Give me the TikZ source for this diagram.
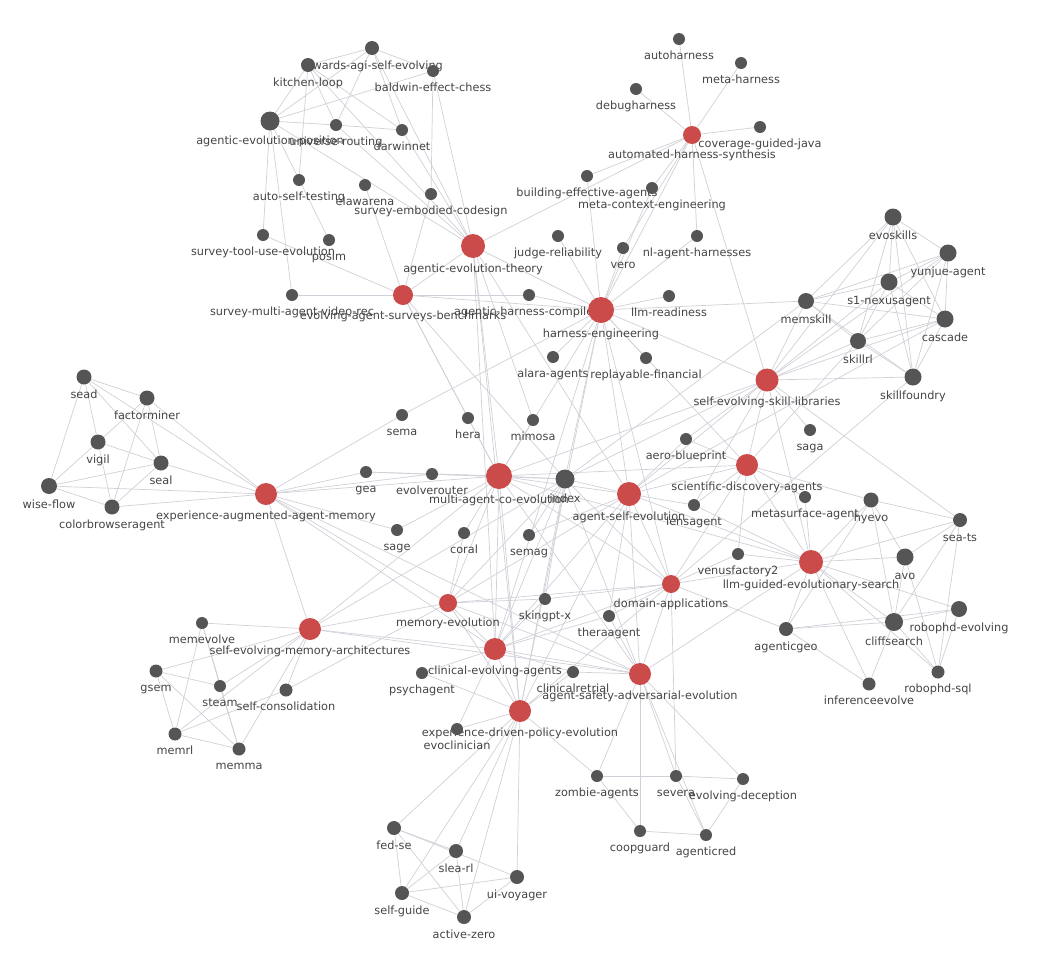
\documentclass[tikz,border=0pt]{standalone}
\usepackage{fontspec}
\setmainfont{DejaVu Sans}
\usetikzlibrary{backgrounds}

\definecolor{nodegray}{HTML}{555555}
\definecolor{topicred}{HTML}{CB4B4B}
\definecolor{labelgray}{HTML}{444444}
\definecolor{linkgray}{HTML}{D0D0D8}

\begin{document}
\begin{tikzpicture}[x=1pt, y=-1pt, label distance=5.5pt,
  every label/.style={text=labelgray, font=\fontsize{11.3}{13}\selectfont, inner sep=0pt, text height=8.5pt, text depth=2.5pt},
  paper/.style={circle, fill=nodegray, inner sep=0pt, minimum size=#1},
  paper/.default=12pt,
  topic/.style={circle, fill=topicred, inner sep=0pt, minimum size=#1},
  topic/.default=22pt,
  every edge/.style={draw=linkgray, line width=0.7pt}]
  \useasboundingbox (0,0) rectangle (1041,956);

  % survey and position papers, top left
  \node[paper=14pt, label=below:towards-agi-self-evolving] (tagi) at (372,48) {};
  \node[paper=14pt, label=below:kitchen-loop] (kloop) at (308,65) {};
  \node[paper, label=below:baldwin-effect-chess] (baldwin) at (433,71) {};
  \node[paper=19pt, label=below:agentic-evolution-position] (aepos) at (270,121) {};
  \node[paper, label=below:universe-routing] (urout) at (336,125) {};
  \node[paper, label=below:darwinnet] (darwin) at (402,130) {};
  \node[paper, label=below:auto-self-testing] (ast) at (299,180) {};
  \node[paper, label=below:elawarena] (elaw) at (365,185) {};
  \node[paper, label=below:survey-embodied-codesign] (sec) at (431,194) {};
  \node[paper, label=below:survey-tool-use-evolution] (stue) at (263,235) {};
  \node[paper, label=below:posim] (posim) at (329,240) {};
  \node[paper, label=below:survey-multi-agent-video-rec] (smavr) at (292,295) {};
  \node[topic=20pt, label=below:evolving-agent-surveys-benchmarks] (easb) at (403,295) {};
  \node[topic=24pt, label=below:agentic-evolution-theory] (aet) at (473,246) {};

  % harness papers
  \node[paper, label=below:autoharness] (autoh) at (679,39) {};
  \node[paper, label=below:meta-harness] (metah) at (741,63) {};
  \node[paper, label=below:debugharness] (debugh) at (636,89) {};
  \node[paper, label=below:coverage-guided-java] (cgj) at (760,127) {};
  \node[topic=18pt, label=below:automated-harness-synthesis] (ahs) at (692,135) {};
  \node[paper, label=below:building-effective-agents] (bea) at (587,176) {};
  \node[paper, label=below:meta-context-engineering] (mce) at (652,188) {};
  \node[paper, label=below:judge-reliability] (judge) at (558,236) {};
  \node[paper, label=below:vero] (vero) at (623,248) {};
  \node[paper, label=below:nl-agent-harnesses] (nlah) at (697,236) {};
  \node[paper, label=below:agentic-harness-compilers] (ahc) at (529,295) {};
  \node[topic=26pt, label=below:harness-engineering] (he) at (601,310) {};
  \node[paper, label=below:llm-readiness] (llmr) at (669,296) {};
  \node[paper, label=below:alara-agents] (alara) at (553,357) {};
  \node[paper, label=below:replayable-financial] (replay) at (646,358) {};

  % skill papers
  \node[paper=17pt, label=below:evoskills] (evosk) at (893,217) {};
  \node[paper=17pt, label=below:yunjue-agent] (yunjue) at (948,253) {};
  \node[paper=17pt, label=below:s1-nexusagent] (s1) at (889,282) {};
  \node[paper=16pt, label=below:memskill] (memsk) at (806,301) {};
  \node[paper=17pt, label=below:cascade] (cascade) at (945,319) {};
  \node[paper=16pt, label=below:skillrl] (skillrl) at (858,341) {};
  \node[paper=17pt, label=below:skillfoundry] (skillf) at (913,377) {};
  \node[topic=23pt, label=below:self-evolving-skill-libraries] (sesl) at (767,380) {};
  \node[paper, label=below:saga] (saga) at (810,430) {};

  % experience memory papers, left
  \node[paper=15pt, label=below:sead] (sead) at (84,377) {};
  \node[paper=15pt, label=below:factorminer] (factor) at (147,398) {};
  \node[paper=15pt, label=below:vigil] (vigil) at (98,442) {};
  \node[paper=15pt, label=below:seal] (seal) at (161,463) {};
  \node[paper=16pt, label=below:wise-flow] (wise) at (49,486) {};
  \node[paper=15pt, label=below:colorbrowseragent] (colorb) at (112,507) {};
  \node[topic, label=below:experience-augmented-agent-memory] (eaam) at (266,494) {};
  \node[paper, label=below:sema] (sema) at (402,415) {};
  \node[paper, label=below:gea] (gea) at (366,472) {};
  \node[paper, label=below:sage] (sage) at (397,530) {};

  % centre
  \node[paper, label=below:hera] (hera) at (468,418) {};
  \node[paper, label=below:mimosa] (mimosa) at (533,420) {};
  \node[paper, label=below:evolverouter] (evolr) at (432,474) {};
  \node[topic=26pt, label=below:multi-agent-co-evolution] (mace) at (499,476) {};
  \node[paper=19pt, label=below:index] (index) at (565,479) {};
  \node[topic=24pt, label=below:agent-self-evolution] (ase) at (629,494) {};
  \node[paper, label=below:aero-blueprint] (aero) at (686,439) {};
  \node[paper, label=below:lensagent] (lens) at (694,505) {};
  \node[paper, label=below:coral] (coral) at (464,533) {};
  \node[paper, label=below:semag] (semag) at (529,535) {};
  \node[topic, label=below:scientific-discovery-agents] (sda) at (747,465) {};
  \node[paper, label=below:metasurface-agent] (metas) at (805,497) {};
  \node[paper, label=below:venusfactory2] (venus) at (738,554) {};
  \node[topic=18pt, label=below:domain-applications] (da) at (671,584) {};
  \node[topic=18pt, label=below:memory-evolution] (memev) at (448,603) {};
  \node[paper, label=below:skingpt-x] (skingpt) at (545,599) {};
  \node[paper, label=below:theraagent] (thera) at (609,616) {};

  % evolutionary search, right
  \node[paper=15pt, label=below:hyevo] (hyevo) at (871,500) {};
  \node[paper=14pt, label=below:sea-ts] (seats) at (960,520) {};
  \node[topic=24pt, label=below:llm-guided-evolutionary-search] (lges) at (811,562) {};
  \node[paper=17pt, label=below:avo] (avo) at (905,557) {};
  \node[paper=16pt, label=below:robophd-evolving] (robe) at (959,609) {};
  \node[paper=18pt, label=below:cliffsearch] (cliff) at (894,622) {};
  \node[paper=14pt, label=below:agenticgeo] (ageo) at (786,629) {};
  \node[paper=13pt, label=below:inferenceevolve] (infer) at (869,684) {};
  \node[paper=13pt, label=below:robophd-sql] (rsql) at (938,672) {};

  % memory architectures, bottom left
  \node[paper, label=below:memevolve] (memevolve) at (202,623) {};
  \node[topic, label=below:self-evolving-memory-architectures] (semarch) at (310,629) {};
  \node[paper=13pt, label=below:gsem] (gsem) at (156,671) {};
  \node[paper, label=below:steam] (steam) at (220,686) {};
  \node[paper=13pt, label=below:self-consolidation] (scons) at (286,690) {};
  \node[paper=13pt, label=below:memrl] (memrl) at (175,734) {};
  \node[paper=13pt, label=below:memma] (memma) at (239,749) {};
  \node[paper, label=below:psychagent] (psych) at (422,673) {};
  \node[topic, label=below:clinical-evolving-agents] (cea) at (495,649) {};
  \node[paper, label=below:clinicalretrial] (clinr) at (573,672) {};
  \node[topic, label=below:agent-safety-adversarial-evolution] (asae) at (640,674) {};
  \node[topic, label=below:experience-driven-policy-evolution] (edpe) at (520,711) {};
  \node[paper, label=below:evoclinician] (evoclin) at (457,729) {};

  % policy and safety papers, bottom
  \node[paper=14pt, label=below:fed-se] (fedse) at (394,828) {};
  \node[paper=14pt, label=below:slea-rl] (slearl) at (456,851) {};
  \node[paper=14pt, label=below:ui-voyager] (uivoy) at (517,877) {};
  \node[paper=14pt, label=below:self-guide] (selfg) at (402,893) {};
  \node[paper=14pt, label=below:active-zero] (azero) at (464,917) {};
  \node[paper, label=below:zombie-agents] (zombie) at (597,776) {};
  \node[paper, label=below:severa] (severa) at (676,776) {};
  \node[paper, label=below:evolving-deception] (evdec) at (743,779) {};
  \node[paper, label=below:coopguard] (coopg) at (640,831) {};
  \node[paper, label=below:agenticred] (agred) at (706,835) {};

  \begin{scope}[on background layer]
    \path (tagi) edge (kloop) edge (baldwin) edge (aepos) edge (urout) edge (darwin) edge (aet);
    \path (kloop) edge (aepos) edge (ast) edge (urout) edge (darwin) edge (aet);
    \path (baldwin) edge (aepos) edge (sec) edge (aet);
    \path (aepos) edge (urout) edge (stue) edge (smavr) edge (posim) edge (aet);
    \path (urout) edge (darwin) edge (aet);
    \path (darwin) edge (aet);
    \path (easb) edge (elaw) edge (sec) edge (stue) edge (smavr) edge (aet) edge (he) edge (ahc) edge (index) edge (mace) edge (hera);
    \path (aet) edge (ahs) edge (he) edge (mace) edge (mimosa) edge (ase) edge (cea) edge (edpe);
    \path (ahs) edge (autoh) edge (metah) edge (debugh) edge (cgj) edge (bea) edge (mce) edge (vero) edge (nlah) edge (he) edge (sesl);
    \path (he) edge (judge) edge (vero) edge (nlah) edge (llmr) edge (ahc) edge (alara) edge (replay) edge (bea) edge (mce)
      edge (mace) edge (index) edge (ase) edge (sda) edge (sesl) edge (da) edge (cea) edge (edpe) edge (memsk) edge (sema);
    \path (sesl) edge (memsk) edge (evosk) edge (yunjue) edge (s1) edge (cascade) edge (skillrl) edge (skillf) edge (saga)
      edge (sda) edge (ase) edge (index) edge (mace) edge (aero) edge (lens) edge (seats) edge (lges);
    \path (evosk) edge (yunjue) edge (s1) edge (memsk) edge (skillrl) edge (skillf) edge (cascade);
    \path (yunjue) edge (s1) edge (memsk) edge (cascade) edge (skillrl) edge (skillf);
    \path (s1) edge (memsk) edge (cascade) edge (skillrl) edge (skillf);
    \path (memsk) edge (cascade) edge (skillrl) edge (skillf) edge (index);
    \path (cascade) edge (skillrl) edge (skillf) edge (ase);
    \path (skillrl) edge (skillf) edge (sda);
    \path (skillf) edge (da);
    \path (sead) edge (factor) edge (vigil) edge (seal) edge (wise) edge (eaam);
    \path (factor) edge (vigil) edge (seal) edge (colorb) edge (eaam);
    \path (vigil) edge (seal) edge (wise) edge (colorb);
    \path (seal) edge (wise) edge (colorb) edge (eaam);
    \path (wise) edge (colorb) edge (eaam);
    \path (colorb) edge (eaam);
    \path (eaam) edge (sema) edge (gea) edge (evolr) edge (sage) edge (mace) edge (semarch) edge (memev) edge (cea) edge (asae);
    \path (gea) edge (mace) edge (index);
    \path (mace) edge (evolr) edge (sage) edge (hera) edge (mimosa) edge (coral)
      edge (index) edge (ase) edge (sda) edge (lges) edge (memev) edge (cea) edge (edpe) edge (asae) edge (da);
    \path (coral) edge (memev);
    \path (index) edge (semag) edge (ase) edge (skingpt) edge (edpe) edge (cea) edge (da) edge (asae) edge (memev);
    \path (ase) edge (semag) edge (aero) edge (lens) edge (sda) edge (lges) edge (da) edge (thera) edge (memev) edge (cea) edge (asae) edge (edpe);
    \path (sda) edge (aero) edge (lens) edge (venus) edge (metas) edge (lges) edge (da) edge (hyevo);
    \path (lges) edge (lens) edge (venus) edge (metas) edge (da) edge (asae)
      edge (hyevo) edge (seats) edge (avo) edge (cliff) edge (robe) edge (rsql) edge (infer) edge (ageo);
    \path (da) edge (venus) edge (skingpt) edge (thera) edge (memev) edge (cea) edge (edpe) edge (asae) edge (ageo) edge (severa);
    \path (memev) edge (semarch) edge (scons) edge (cea) edge (edpe) edge (asae) edge (skingpt);
    \path (cea) edge (skingpt) edge (thera) edge (clinr) edge (semarch) edge (psych) edge (edpe) edge (evoclin) edge (asae);
    \path (asae) edge (thera) edge (clinr) edge (semarch) edge (zombie) edge (severa) edge (evdec) edge (coopg) edge (agred);
    \path (edpe) edge (clinr) edge (psych) edge (evoclin) edge (fedse) edge (slearl) edge (uivoy) edge (selfg) edge (azero) edge (zombie);
    \path (hyevo) edge (seats) edge (avo) edge (cliff) edge (ageo);
    \path (seats) edge (avo) edge (cliff) edge (rsql);
    \path (avo) edge (cliff) edge (rsql);
    \path (robe) edge (cliff) edge (ageo) edge (rsql);
    \path (cliff) edge (ageo) edge (infer) edge (rsql);
    \path (ageo) edge (infer);
    \path (semarch) edge (memevolve) edge (gsem) edge (steam) edge (scons) edge (memrl) edge (memma) edge (mace) edge (index);
    \path (memevolve) edge (steam) edge (memrl) edge (memma);
    \path (gsem) edge (steam) edge (memrl) edge (memma);
    \path (steam) edge (memma);
    \path (memrl) edge (memma) edge (scons);
    \path (fedse) edge (slearl) edge (uivoy) edge (selfg) edge (azero);
    \path (slearl) edge (selfg) edge (azero);
    \path (uivoy) edge (selfg) edge (azero);
    \path (selfg) edge (azero);
    \path (zombie) edge (severa) edge (coopg);
    \path (severa) edge (evdec) edge (agred);
    \path (evdec) edge (agred);
    \path (coopg) edge (agred);
  \end{scope}
\end{tikzpicture}
\end{document}
